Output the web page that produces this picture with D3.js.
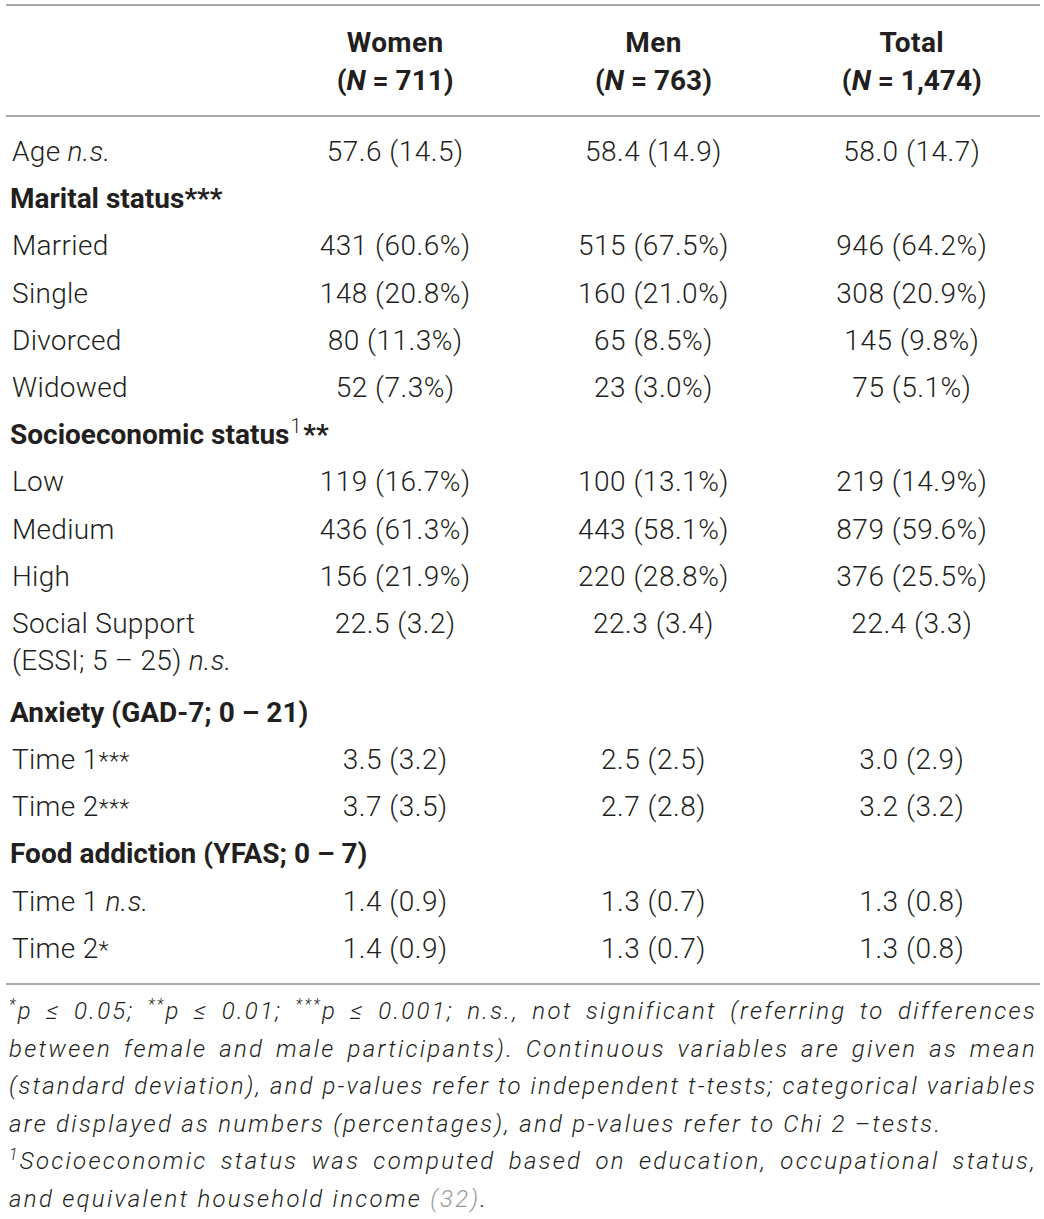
<!DOCTYPE html>
<html>
<head>
<meta charset="utf-8">
<script src="https://cdn.jsdelivr.net/npm/d3@7"></script>
<style>
  body { margin: 0; background: #fff; }
  svg text { font-family: Roboto, "Liberation Sans", sans-serif; fill: #231f20; }
</style>
</head>
<body>
<div id="chart"></div>
<script>
// table content
const groups = ["Women", "Men", "Total"];
const groupN = ["711", "763", "1,474"];

const rowLabels = [["Age"], ["Marital status"], ["Married"], ["Single"], ["Divorced"], ["Widowed"],
  ["Socioeconomic status"], ["Low"], ["Medium"], ["High"], ["Social Support", "(ESSI; 5 – 25)"],
  ["Anxiety (GAD-7; 0 – 21)"], ["Time 1"], ["Time 2"], ["Food addiction (YFAS; 0 – 7)"], ["Time 1"], ["Time 2"]];
const rowNotes = ["n.s.", "***", "", "", "", "", "1**", "", "", "", "n.s.", "", "***", "***", "", "n.s.", "*"];
const rowSection = [false, true, false, false, false, false, true, false, false, false, false, true, false, false, true, false, false];

const womenValues = ["57.6 (14.5)", "", "431 (60.6%)", "148 (20.8%)", "80 (11.3%)", "52 (7.3%)", "",
  "119 (16.7%)", "436 (61.3%)", "156 (21.9%)", "22.5 (3.2)", "", "3.5 (3.2)", "3.7 (3.5)", "", "1.4 (0.9)", "1.4 (0.9)"];
const menValues = ["58.4 (14.9)", "", "515 (67.5%)", "160 (21.0%)", "65 (8.5%)", "23 (3.0%)", "",
  "100 (13.1%)", "443 (58.1%)", "220 (28.8%)", "22.3 (3.4)", "", "2.5 (2.5)", "2.7 (2.8)", "", "1.3 (0.7)", "1.3 (0.7)"];
const totalValues = ["58.0 (14.7)", "", "946 (64.2%)", "308 (20.9%)", "145 (9.8%)", "75 (5.1%)", "",
  "219 (14.9%)", "879 (59.6%)", "376 (25.5%)", "22.4 (3.3)", "", "3.0 (2.9)", "3.2 (3.2)", "", "1.3 (0.8)", "1.3 (0.8)"];

// footnote lines: [text, kind] segments, kind: "" plain, "sup" superscript, "ref" citation
const footLines = [
  [["*", "sup"], ["p ≤ 0.05; ", ""], ["**", "sup"], ["p ≤ 0.01; ", ""], ["***", "sup"], ["p ≤ 0.001; n.s., not significant (referring to differences", ""]],
  [["between female and male participants). Continuous variables are given as mean", ""]],
  [["(standard deviation), and p-values refer to independent t-tests; categorical variables", ""]],
  [["are displayed as numbers (percentages), and p-values refer to Chi 2 –tests.", ""]],
  [["1", "sup"], ["Socioeconomic status was computed based on education, occupational status,", ""]],
  [["and equivalent household income ", ""], ["(32)", "ref"], [".", ""]]
];
const footJustify = [true, true, true, false, true, false];

const width = 1044, height = 1219;
const svg = d3.select("#chart").append("svg")
  .attr("width", width).attr("height", height);

const x = d3.scaleBand().domain(groups).range([266, 1041]);
const colX = g => x(g) + x.bandwidth() / 2;

// row offsets in line units; two-line label adds extra space
const rowUnits = rowLabels.map(l => 1 + (l.length - 1) * 0.88);
const rowStart = d3.cumsum([0, ...rowUnits]);
const y = d3.scaleLinear().domain([0, 1]).range([161, 208.2]);

const fs = 28;

// rules
const rules = [5, 116, 984];
svg.selectAll("line.rule").data(rules).join("line")
  .attr("class", "rule")
  .attr("x1", 6).attr("x2", 1040)
  .attr("y1", d => d).attr("y2", d => d)
  .attr("stroke", "#a8a8a8").attr("stroke-width", 2);

// header
const head = svg.selectAll("g.head").data(groups).join("g").attr("class", "head");
head.append("text")
  .attr("x", colX).attr("y", 52)
  .attr("text-anchor", "middle").attr("font-size", fs).attr("font-weight", 700)
  .style("letter-spacing", "0.4px")
  .text(d => d);
head.append("text")
  .attr("x", colX).attr("y", 90)
  .attr("text-anchor", "middle").attr("font-size", fs).attr("font-weight", 700)
  .each(function(d, i) {
    const t = d3.select(this);
    t.append("tspan").text("(");
    t.append("tspan").attr("font-style", "italic").text("N");
    t.append("tspan").text(` = ${groupN[i]})`);
  });

// row labels
rowLabels.forEach((lines, i) => {
  const base = y(rowStart[i]);
  lines.forEach((line, j) => {
    const t = svg.append("text")
      .attr("x", rowSection[i] ? 10 : 12)
      .attr("y", base + j * 37)
      .attr("font-size", fs)
      .attr("font-weight", rowSection[i] ? 700 : 300)
      .style("letter-spacing", rowSection[i] ? "0px" : "0.3px")
      .text(line);
    if (j === lines.length - 1 && rowNotes[i]) {
      const note = rowNotes[i];
      if (note === "n.s.") {
        t.append("tspan").text(" ");
        t.append("tspan").attr("font-style", "italic").text(note);
      } else if (/^\d/.test(note)) {
        t.append("tspan").attr("font-size", fs * 0.7).attr("font-weight", 300)
          .attr("dy", -11).attr("dx", 1).text(note[0]);
        t.append("tspan").attr("dy", 11).attr("dx", 2).text(note.slice(1));
      } else {
        t.append("tspan").attr("font-size", rowSection[i] ? fs : fs * 0.85).text(note);
      }
    }
  });
});

// values
const valueCols = [womenValues, menValues, totalValues];
groups.forEach((g, c) => {
  svg.selectAll(null).data(valueCols[c]).join("text")
    .attr("x", colX(g))
    .attr("y", (d, i) => y(rowStart[i]))
    .attr("text-anchor", "middle")
    .attr("font-size", fs).attr("font-weight", 300)
    .style("letter-spacing", "0.5px")
    .text(d => d);
});

// footnote, justified by word spacing
const footSize = 24, footLeft = 9, footRight = 1037, footLs = 2.3;
footLines.forEach((segs, i) => {
  const t = svg.append("text")
    .attr("x", footLeft).attr("y", 1019 + i * 37.5)
    .attr("font-size", footSize).attr("font-style", "italic").attr("font-weight", 300)
    .style("letter-spacing", footLs + "px");
  segs.forEach(([txt, kind], k) => {
    const sp = t.append("tspan").text(txt);
    if (kind === "sup") {
      sp.attr("font-size", footSize * 0.66).attr("dy", -9);
    } else if (kind === "ref") {
      sp.style("fill", "#9a9a9a");
    }
    if (k > 0 && segs[k - 1][1] === "sup") sp.attr("dy", 9);
  });
  if (footJustify[i]) {
    const full = segs.map(s => s[0]).join("");
    const spaces = full.split(" ").length - 1;
    const extra = footRight - footLeft - t.node().getComputedTextLength();
    if (extra >= 0) {
      t.style("word-spacing", (extra / spaces) + "px");
    } else {
      t.style("letter-spacing", (footLs + extra / full.length) + "px");
    }
  }
});
</script>
</body>
</html>
